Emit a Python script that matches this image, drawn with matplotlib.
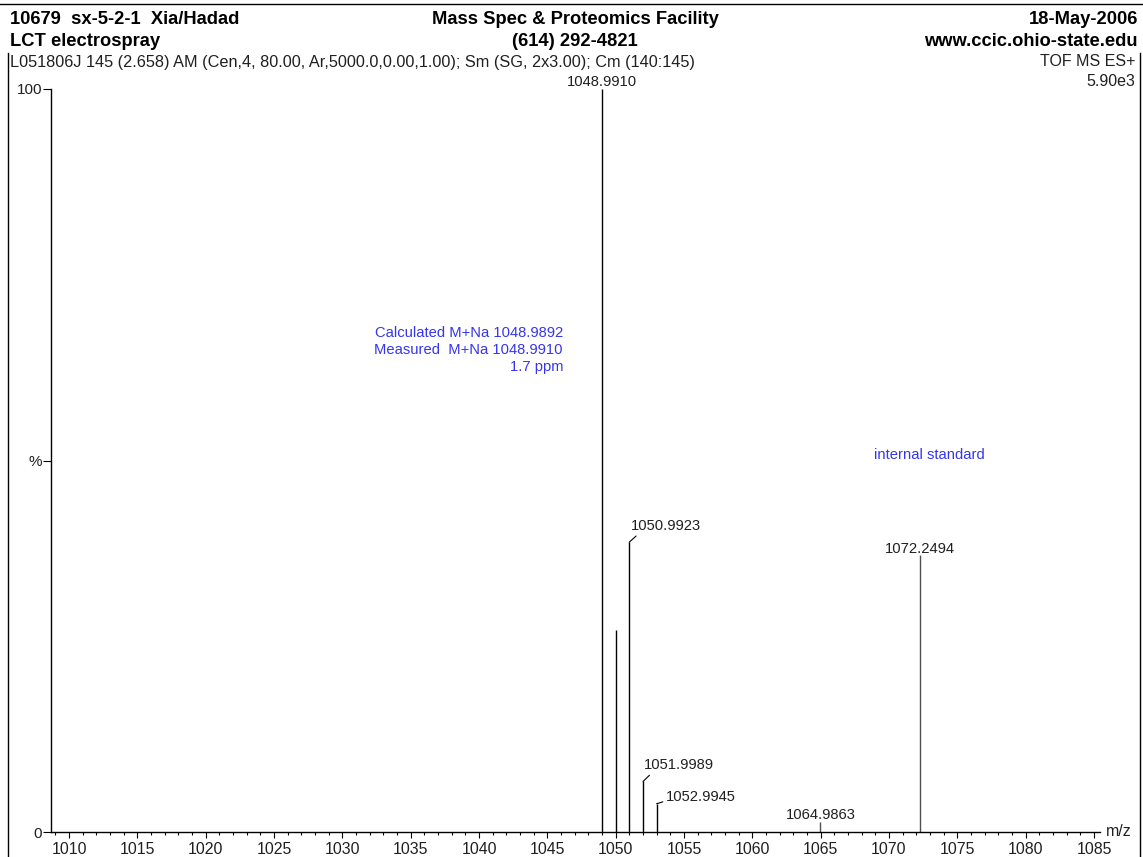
import numpy as np
import matplotlib.pyplot as plt
from matplotlib.lines import Line2D
from matplotlib.ticker import MultipleLocator, FixedLocator

plt.rcParams["font.family"] = ["Liberation Sans", "DejaVu Sans"]

### Spectrum data ###
peak_mz = [1048.9910, 1049.99, 1050.9923, 1051.9989, 1052.9945, 1064.9863, 1072.2494]
peak_int = [100.0, 27.2, 39.0, 6.8, 3.8, 1.3, 37.3]
peak_labels = ["1048.9910", None, "1050.9923", "1051.9989", "1052.9945", "1064.9863", "1072.2494"]

y_ticks = [0, 50, 100]
y_ticklabels = ["0", "%", "100"]

header_left = ["10679  sx-5-2-1  Xia/Hadad", "LCT electrospray"]
header_mid = ["Mass Spec & Proteomics Facility", "(614) 292-4821"]
header_right = ["18-May-2006", "www.ccic.ohio-state.edu"]
info_line = "L051806J 145 (2.658) AM (Cen,4, 80.00, Ar,5000.0,0.00,1.00); Sm (SG, 2x3.00); Cm (140:145)"
scan_info = ["TOF MS ES+", "5.90e3"]
mass_note = ["Calculated M+Na 1048.9892", "Measured  M+Na 1048.9910", "1.7 ppm"]
std_note = "internal standard"

BLUE = "#3535f0"
TXT = "#202020"
W, H = 1143, 857

fig = plt.figure(figsize=(W / 100, H / 100), dpi=100)
ax = fig.add_axes([51 / W, 1 - 832 / H, (1100 - 51) / W, (832 - 89) / H])
ax.set_xlim(1008.68, 1085.44)
ax.set_ylim(0, 100)

# stick spectrum
for mz, inten in zip(peak_mz, peak_int):
    col = "black" if mz < 1060 else "#505050"
    ax.vlines(mz, 0, inten, color=col, lw=1.0)

# peak labels (offsets in pixels, leader relpos)
label_pos = {
    "1048.9910": ((0, 3), "center", None),
    "1050.9923": ((1.5, 12), "left", (0.12, 0)),
    "1051.9989": ((1, 12), "left", (0.12, 0)),
    "1052.9945": ((9, 3), "left", (0, 0.2)),
    "1064.9863": ((0, 3), "center", None),
    "1072.2494": ((0, 2), "center", None),
}
for mz, inten, lab in zip(peak_mz, peak_int, peak_labels):
    if lab is None:
        continue
    off, ha, rel = label_pos[lab]
    kw = {}
    if rel is not None:
        kw["arrowprops"] = dict(arrowstyle="-", lw=0.8, color="black",
                                shrinkA=0, shrinkB=0, relpos=rel)
    ax.annotate(lab, xy=(mz, inten), xytext=off, textcoords="offset pixels",
                ha=ha, va="baseline", fontsize=10.6, color=TXT,
                annotation_clip=False, **kw)

# axes styling
for side in ["top", "right"]:
    ax.spines[side].set_visible(False)
ax.spines["left"].set_linewidth(1.0)
ax.spines["bottom"].set_linewidth(1.0)
ax.xaxis.set_major_locator(MultipleLocator(5))
ax.xaxis.set_minor_locator(MultipleLocator(1))
ax.tick_params(axis="x", which="major", direction="out", length=4, width=0.8,
               labelsize=11.4, pad=3.5, labelcolor=TXT)
ax.tick_params(axis="x", which="minor", direction="out", length=2.2, width=0.8)
ax.yaxis.set_major_locator(FixedLocator(y_ticks))
ax.set_yticklabels(y_ticklabels)
ax.tick_params(axis="y", direction="out", length=6, width=0.8, labelsize=11,
               pad=0.5, labelcolor=TXT)
ax.text(1.006, 0.0, "m/z", transform=ax.transAxes, ha="left", va="center",
        fontsize=11.5, color=TXT)

# annotations in blue
for i, line in enumerate(mass_note):
    fig.text(563 / W, 1 - (333 + 17 * i) / H, line, ha="right", va="center",
             fontsize=10.6, color=BLUE)
fig.text(929 / W, 1 - 455 / H, std_note, ha="center", va="center",
         fontsize=10.6, color=BLUE)

# header block
for i in range(2):
    y = 1 - (20 + 21 * i) / H
    fig.text(10 / W, y, header_left[i], ha="left", va="center",
             fontsize=13.2, fontweight="bold")
    fig.text(575 / W, y, header_mid[i], ha="center", va="center",
             fontsize=13.2, fontweight="bold")
    fig.text(1138 / W, y, header_right[i], ha="right", va="center",
             fontsize=13.2, fontweight="bold")
fig.text(10 / W, 1 - 62 / H, info_line, ha="left", va="center", fontsize=11.7,
         color=TXT)
fig.text(1135 / W, 1 - 62 / H, scan_info[0], ha="right", va="center",
         fontsize=11.5, color=TXT)
fig.text(1135 / W, 1 - 81 / H, scan_info[1], ha="right", va="center",
         fontsize=11.5, color=TXT)

# page frame
fig.add_artist(Line2D([0, 1], [1 - 4 / H, 1 - 4 / H], transform=fig.transFigure,
                      color="black", lw=1.0))
fig.add_artist(Line2D([8 / W, 8 / W], [0, 1 - 53 / H], transform=fig.transFigure,
                      color="black", lw=1.0))
fig.add_artist(Line2D([1140 / W, 1140 / W], [0, 1 - 53 / H],
                      transform=fig.transFigure, color="black", lw=1.0))

fig.savefig("out.png", dpi=100)
